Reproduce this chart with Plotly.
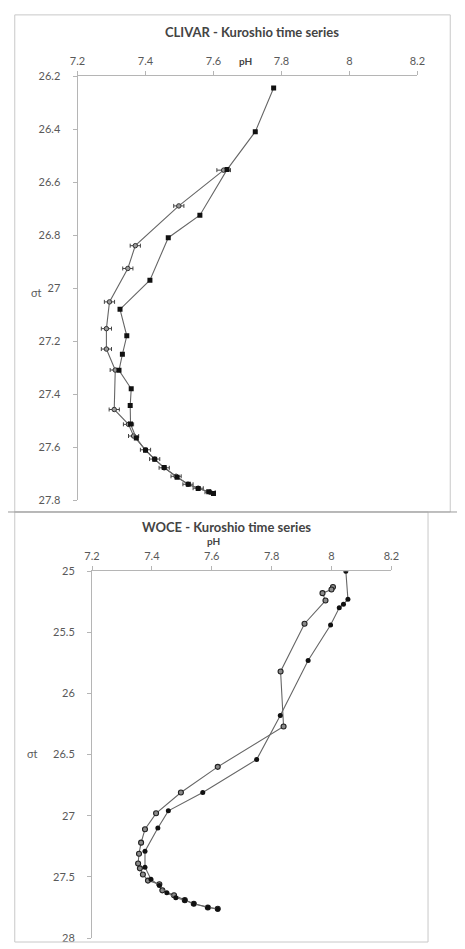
import plotly.graph_objects as go

W, H = 465, 949

# ---------------- data ----------------
# CLIVAR panel
clivar_err_ph = [7.63, 7.498, 7.37, 7.348, 7.294, 7.285, 7.285, 7.311, 7.308, 7.35, 7.365,
                 7.40, 7.427, 7.455, 7.49, 7.525, 7.555, 7.59]
clivar_err_sig = [26.555, 26.69, 26.84, 26.926, 27.052, 27.153, 27.23, 27.309, 27.458, 27.514,
                  27.558, 27.61, 27.645, 27.678, 27.71, 27.74, 27.755, 27.77]
clivar_err_bar = [0.02, 0.015, 0.015, 0.015, 0.015, 0.015, 0.015, 0.015, 0.015, 0.015, 0.015,
                  0.015, 0.015, 0.015, 0.015, 0.015, 0.015, 0.015]

clivar_ph = [7.777, 7.723, 7.64, 7.56, 7.467, 7.413, 7.325, 7.345, 7.332, 7.322, 7.358, 7.355,
             7.356, 7.373, 7.40, 7.427, 7.455, 7.493, 7.526, 7.555, 7.586, 7.60]
clivar_sig = [26.245, 26.41, 26.553, 26.725, 26.81, 26.97, 27.08, 27.18, 27.25, 27.31, 27.38,
              27.443, 27.513, 27.566, 27.612, 27.646, 27.677, 27.714, 27.74, 27.756, 27.768, 27.775]

# WOCE panel
woce_open_ph = [8.005, 8.0, 7.97, 7.98, 7.91, 7.83, 7.84, 7.62, 7.497, 7.414, 7.377, 7.364,
                7.357, 7.354, 7.36, 7.37, 7.387, 7.425, 7.435, 7.474, 7.51, 7.54, 7.587, 7.62]
woce_open_sig = [25.13, 25.15, 25.18, 25.24, 25.43, 25.82, 26.27, 26.60, 26.81, 26.98, 27.11,
                 27.22, 27.31, 27.39, 27.43, 27.48, 27.53, 27.56, 27.61, 27.65, 27.69, 27.72,
                 27.75, 27.76]

woce_fill_ph = [8.048, 8.055, 8.04, 8.026, 7.997, 7.922, 7.829, 7.75, 7.57, 7.455, 7.42, 7.377,
                7.377, 7.397, 7.425, 7.45, 7.48, 7.51, 7.54, 7.587, 7.62]
woce_fill_sig = [25.0, 25.23, 25.27, 25.30, 25.44, 25.73, 26.18, 26.54, 26.81, 26.96, 27.10,
                 27.29, 27.42, 27.52, 27.57, 27.63, 27.67, 27.69, 27.72, 27.75, 27.765]

ph_ticks = [7.2, 7.4, 7.6, 7.8, 8.0, 8.2]
ph_labels = ["7.2", "7.4", "7.6", "7.8", "8", "8.2"]
clivar_yticks = [26.2, 26.4, 26.6, 26.8, 27.0, 27.2, 27.4, 27.6, 27.8]
clivar_ylabels = ["26.2", "26.4", "26.6", "26.8", "27", "27.2", "27.4", "27.6", "27.8"]
woce_yticks = [25.0, 25.5, 26.0, 26.5, 27.0, 27.5, 28.0]
woce_ylabels = ["25", "25.5", "26", "26.5", "27", "27.5", "28"]

titles = ["CLIVAR - Kuroshio time series", "WOCE - Kuroshio time series"]

# ---------------- figure ----------------
def px(x):
    return x / W

def py(y):
    return 1 - y / H

LINE = "#666666"
FONT = "Lato"
TXT = "#595959"

fig = go.Figure()

fig.add_trace(go.Scatter(
    x=clivar_err_ph, y=clivar_err_sig, mode="lines+markers",
    line=dict(color=LINE, width=1.1),
    marker=dict(symbol="circle", size=4.5, color="#9a9a9a", line=dict(color="#333", width=1)),
    error_x=dict(type="data", array=clivar_err_bar, color="#444", thickness=1, width=2),
    xaxis="x", yaxis="y", showlegend=False))
fig.add_trace(go.Scatter(
    x=clivar_ph, y=clivar_sig, mode="lines+markers",
    line=dict(color=LINE, width=1.1),
    marker=dict(symbol="square", size=5, color="#111"),
    xaxis="x", yaxis="y", showlegend=False))

fig.add_trace(go.Scatter(
    x=woce_open_ph, y=woce_open_sig, mode="lines+markers",
    line=dict(color=LINE, width=1.1),
    marker=dict(symbol="circle", size=5, color="#8a8a8a", line=dict(color="#222", width=1.1)),
    xaxis="x2", yaxis="y2", showlegend=False))
fig.add_trace(go.Scatter(
    x=woce_fill_ph, y=woce_fill_sig, mode="lines+markers",
    line=dict(color=LINE, width=1.1),
    marker=dict(symbol="circle", size=5, color="#111"),
    xaxis="x2", yaxis="y2", showlegend=False))

common_axis = dict(
    showgrid=False, zeroline=False, showline=True, linecolor="#b5b5b5", linewidth=1,
    ticks="outside", ticklen=4, tickcolor="#b5b5b5",
    tickfont=dict(family=FONT, size=11, color=TXT),
)

fig.update_layout(
    width=W, height=H,
    margin=dict(l=0, r=0, t=0, b=0),
    paper_bgcolor="white", plot_bgcolor="white",
    xaxis=dict(common_axis, domain=[px(72), px(424)], range=[7.2, 8.2], side="top",
               anchor="y", tickvals=ph_ticks, ticktext=ph_labels, ticklabelstandoff=2),
    yaxis=dict(common_axis, domain=[py(500), py(70)], range=[27.8, 26.2], anchor="x",
               tickvals=clivar_yticks, ticktext=clivar_ylabels, ticklabelstandoff=10),
    xaxis2=dict(common_axis, domain=[px(87), px(397)], range=[7.2, 8.2], side="top",
                anchor="y2", tickvals=ph_ticks, ticktext=ph_labels, ticklabelstandoff=2),
    yaxis2=dict(common_axis, domain=[py(944), py(572)], range=[28, 25], anchor="x2",
                tickvals=woce_yticks, ticktext=woce_ylabels, ticklabelstandoff=10),
    shapes=[
        dict(type="rect", xref="paper", yref="paper", x0=px(7), x1=px(458), y0=py(512), y1=py(8),
             line=dict(color="#c8c8c8", width=1)),
        dict(type="rect", xref="paper", yref="paper", x0=px(7), x1=px(435), y0=py(948), y1=py(512),
             line=dict(color="#c8c8c8", width=1)),
        dict(type="line", xref="paper", yref="paper", x0=0, x1=1, y0=py(512), y1=py(512),
             line=dict(color="#9a9a9a", width=1)),
    ],
    annotations=[
        dict(text="<b>" + titles[0] + "</b>", x=px(253), y=py(25), xref="paper", yref="paper",
             showarrow=False, font=dict(family=FONT, size=13, color="#444"), xanchor="center", yanchor="middle"),
        dict(text="<b>pH</b>", x=px(246), y=py(55), xref="paper", yref="paper",
             showarrow=False, font=dict(family=FONT, size=10, color="#444"), xanchor="center", yanchor="middle"),
        dict(text="σt", x=px(30), y=py(289), xref="paper", yref="paper",
             showarrow=False, font=dict(family=FONT, size=11, color=TXT), xanchor="center", yanchor="middle"),
        dict(text="<b>" + titles[1] + "</b>", x=px(226), y=py(527), xref="paper", yref="paper",
             showarrow=False, font=dict(family=FONT, size=13, color="#444"), xanchor="center", yanchor="middle"),
        dict(text="<b>pH</b>", x=px(213), y=py(541), xref="paper", yref="paper",
             showarrow=False, font=dict(family=FONT, size=10, color="#444"), xanchor="center", yanchor="middle"),
        dict(text="σt", x=px(25), y=py(757), xref="paper", yref="paper",
             showarrow=False, font=dict(family=FONT, size=11, color=TXT), xanchor="center", yanchor="middle"),
    ],
)

fig.write_html("out.html")
